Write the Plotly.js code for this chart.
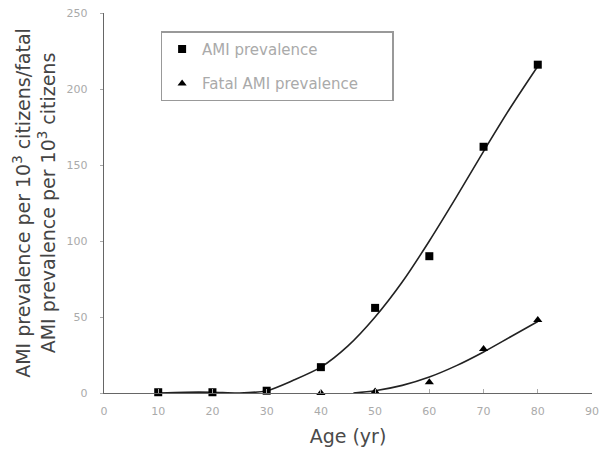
<!DOCTYPE html>
<html>
<head>
<meta charset="utf-8">
<script src="https://cdn.plot.ly/plotly-3.0.1.min.js"></script>
<style>html,body{margin:0;padding:0;background:#fff;}#chart{width:599px;height:456px;}</style>
</head>
<body>
<div id="chart"></div>
<script>
// Observed data
var ages = [10, 20, 30, 40, 50, 60, 70, 80];
var amiPrev = [0.5, 0.5, 1.5, 17, 56, 90, 162, 216];
var fatalAges = [40, 50, 60, 70, 80];
var fatalPrev = [0, 1, 7, 29, 48];
// Fitted trend curves
var amiFitAges = [10, 15, 20, 25, 30, 35, 40, 45, 50, 55, 60, 65, 70, 75, 80];
var amiFitVals = [0, 0.5, 0.5, 0, 1.5, 8.5, 17, 31, 50, 73, 100, 129, 159, 188, 215];
var fatalFitAges = [46, 50, 55, 60, 65, 70, 75, 80];
var fatalFitVals = [0, 1.5, 5, 10.5, 18, 27, 37, 47];
var xTicks = [0, 10, 20, 30, 40, 50, 60, 70, 80, 90];
var yTicks = [0, 50, 100, 150, 200, 250];
var legendNames = ['AMI prevalence', 'Fatal AMI prevalence'];
var pad = '\u00a0\u00a0\u00a0\u00a0\u00a0\u00a0';

var traces = [
  {x: amiFitAges, y: amiFitVals, mode: 'lines', line: {color: '#222', width: 1.6, shape: 'spline', smoothing: 0.8}, showlegend: false, hoverinfo: 'skip'},
  {x: fatalFitAges, y: fatalFitVals, mode: 'lines', line: {color: '#222', width: 1.6, shape: 'spline', smoothing: 0.8}, showlegend: false, hoverinfo: 'skip'},
  {x: ages, y: amiPrev, mode: 'markers', name: legendNames[0], legendgroup: 'a', marker: {symbol: 'square', size: 8, color: '#000'}, cliponaxis: false},
  {x: fatalAges, y: fatalPrev, mode: 'markers', name: legendNames[1] + pad, legendgroup: 'b', marker: {symbol: 'triangle-up', size: 8, color: '#000'}, cliponaxis: false}
];

var layout = {
  width: 599, height: 456,
  margin: {l: 104, r: 7, t: 13, b: 63},
  paper_bgcolor: '#fff', plot_bgcolor: '#fff',
  font: {family: 'DejaVu Sans, Liberation Sans, sans-serif', color: '#999'},
  xaxis: {
    range: [0, 90], tickvals: xTicks, ticktext: xTicks.map(String),
    showgrid: false, zeroline: false, showline: true, linecolor: '#666', linewidth: 1.2,
    ticks: 'inside', ticklen: 4, tickcolor: '#aaa', ticklabelstandoff: 8,
    tickfont: {size: 11, color: '#aaa'},
    title: {text: 'Age (yr)', font: {size: 19, color: '#4a4a4a'}, standoff: 12}
  },
  yaxis: {
    range: [0, 250], tickvals: yTicks, ticktext: yTicks.map(String),
    showgrid: false, zeroline: false, showline: true, linecolor: '#666', linewidth: 1.2,
    ticks: 'outside', ticklen: 3, tickcolor: '#aaa', ticklabelstandoff: 10,
    tickfont: {size: 11, color: '#aaa'},
    title: {text: 'AMI prevalence per 10<sup>3</sup> citizens/fatal<br>AMI prevalence per 10<sup>3</sup> citizens', font: {size: 19, color: '#444'}, standoff: 6}
  },
  legend: {
    x: 0.116, y: 0.952, xanchor: 'left', yanchor: 'top',
    bgcolor: '#fff', bordercolor: '#999', borderwidth: 1.5,
    font: {size: 15, color: '#aaa'}, traceorder: 'grouped', tracegroupgap: 12,
    itemwidth: 30
  },
  showlegend: true
};

Plotly.newPlot('chart', traces, layout, {displayModeBar: false, staticPlot: true});
</script>
</body>
</html>
